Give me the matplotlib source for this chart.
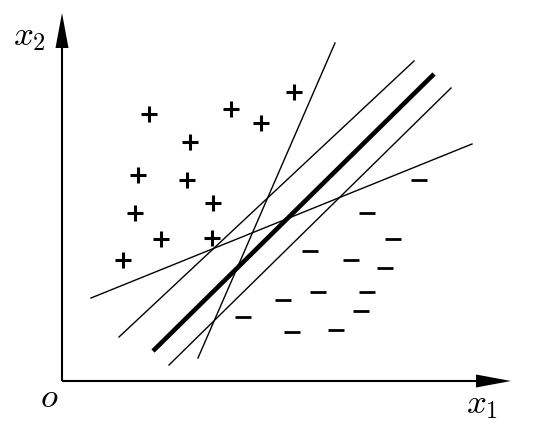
import matplotlib
matplotlib.use("Agg")
import matplotlib.pyplot as plt
from matplotlib.patches import Polygon
import numpy as np

plt.rcParams['mathtext.fontset'] = 'cm'

# positive class samples
plus_x = [87, 169, 199, 232, 128, 76, 125, 151, 73, 99, 150, 61]
plus_y = [267, 272, 258, 289, 239, 206, 201, 178, 168, 142, 143, 121]

# negative class samples
minus_x = [357, 305, 331, 248, 289, 323, 256, 305, 221, 299, 181, 230, 274]
minus_y = [201, 168, 142, 130, 121, 113, 89, 89, 81, 70, 64, 49, 51]

# separating lines (x0, y0, x1, y1)
thick_line = [91, 30, 372, 307]
thin_lines = [
    [57, 44, 352, 320],
    [107, 16, 389, 293],
    [136, 23, 273, 338],
    [29, 83, 410, 237],
]

x_axis_end = 449
y_axis_end = 368

fig = plt.figure(figsize=(5.38, 4.24), dpi=100)
ax = fig.add_axes([0, 0, 1, 1])
ax.set_xlim(-62, 476)
ax.set_ylim(-43, 381)
ax.axis('off')

# axes arrows
head_len, head_hw = 35, 6.5
ax.plot([0, x_axis_end - head_len + 2], [0, 0], color='black', lw=1.5, solid_capstyle='butt')
ax.plot([0, 0], [0, y_axis_end - head_len + 2], color='black', lw=1.5, solid_capstyle='butt')
ax.add_patch(Polygon([[x_axis_end, 0], [x_axis_end - head_len, head_hw], [x_axis_end - head_len, -head_hw]],
                     closed=True, color='black', lw=0))
ax.add_patch(Polygon([[0, y_axis_end], [head_hw, y_axis_end - head_len], [-head_hw, y_axis_end - head_len]],
                     closed=True, color='black', lw=0))

# lines
for ln in thin_lines:
    ax.plot([ln[0], ln[2]], [ln[1], ln[3]], color='black', lw=1.0)
ax.plot([thick_line[0], thick_line[2]], [thick_line[1], thick_line[3]], color='black', lw=3.3,
        solid_capstyle='butt')

# points
ax.plot(plus_x, plus_y, linestyle='none', marker='+', markersize=11.5, mew=2.2, color='black')
ax.plot(minus_x, minus_y, linestyle='none', marker='_', markersize=11.5, mew=2.0, color='black')

# labels
ax.text(-49, 336, r'$x_2$', fontsize=25, ha='left', va='baseline')
ax.text(404, -32, r'$x_1$', fontsize=25, ha='left', va='baseline')
ax.text(-22, -26, r'$o$', fontsize=25, ha='left', va='baseline')

fig.savefig('out.png', dpi=100)
